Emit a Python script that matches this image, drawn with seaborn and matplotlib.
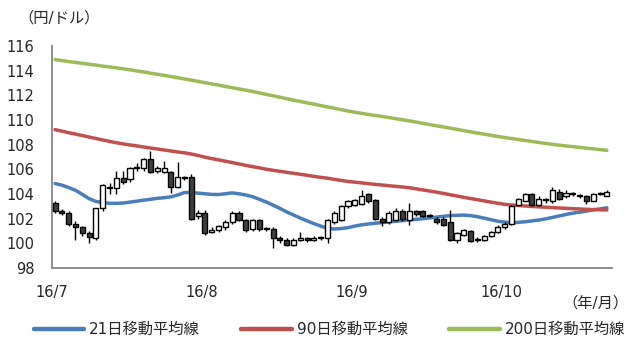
import matplotlib
matplotlib.use("Agg")
import matplotlib.pyplot as plt
import seaborn as sns
import numpy as np
import pandas as pd

# ---- data ----
opens = [103.3, 102.6, 102.5, 101.6, 101.3, 100.8, 100.4, 102.9, 104.6, 104.5, 105.3, 105.2, 106.1, 106.1,
         106.8, 105.9, 105.8, 105.8, 104.6, 105.4, 105.4, 102.2,
         102.45, 100.9, 101.1, 101.35, 101.75, 102.5, 101.9, 101.2, 101.9, 101.2, 101.2, 100.4, 100.3, 99.9,
         100.3, 100.4, 100.3, 100.4, 100.4, 101.7, 101.9, 103.0,
         103.1, 103.2, 104.0, 103.5, 102.0, 101.75, 101.9, 102.65, 101.9, 102.6, 102.6, 102.2, 102.0, 102.0,
         101.7, 100.3, 100.7, 101.0, 100.3, 100.3, 100.6, 100.9,
         101.3, 101.6, 103.1, 103.45, 104.0, 103.1, 103.5, 103.45, 104.2, 103.8, 104.0, 103.9, 103.8, 103.45,
         104.0, 103.85]
highs = [103.4, 102.8, 102.6, 101.8, 101.4, 101.0, 102.9, 104.8, 104.9, 105.9, 105.9, 106.2, 106.5, 106.9,
         107.5, 106.3, 106.7, 105.9, 106.6, 105.5, 105.6, 102.7,
         102.7, 101.3, 101.5, 101.9, 102.6, 102.6, 102.0, 102.0, 102.0, 101.3, 101.3, 100.6, 100.4, 100.4,
         100.9, 100.5, 100.6, 100.6, 102.0, 102.6, 103.1, 103.5,
         103.6, 104.3, 104.1, 103.6, 102.1, 102.6, 102.9, 102.8, 103.3, 102.7, 102.7, 102.4, 102.1, 102.1,
         102.7, 100.9, 101.2, 101.1, 100.5, 100.7, 101.0, 101.5,
         101.7, 103.1, 103.7, 104.1, 104.1, 103.8, 103.7, 104.6, 104.4, 104.3, 104.2, 104.0, 103.9, 104.1,
         104.2, 104.3]
lows = [102.5, 102.3, 101.4, 100.3, 100.6, 100.0, 100.3, 102.6, 104.0, 104.0, 104.8, 105.0, 105.9, 105.9,
        105.7, 105.7, 105.7, 104.1, 104.5, 105.1, 101.9, 102.0,
        100.7, 100.8, 100.9, 101.1, 101.6, 101.8, 100.9, 101.0, 101.0, 101.0, 99.6, 100.0, 99.8, 99.8,
        100.2, 100.1, 100.2, 100.3, 100.05, 101.6, 101.8, 102.9,
        103.0, 103.1, 103.3, 101.9, 101.4, 101.6, 101.8, 101.8, 101.5, 102.2, 102.1, 102.1, 101.6, 101.4,
        100.2, 100.0, 100.6, 100.1, 100.1, 100.2, 100.5, 100.8,
        101.2, 101.5, 103.0, 103.4, 103.0, 103.0, 103.3, 103.3, 103.5, 103.7, 103.8, 103.7, 103.2, 103.4,
        103.9, 103.8]
closes = [102.6, 102.5, 101.6, 101.3, 100.8, 100.5, 102.9, 104.7, 104.5, 105.3, 105.0, 106.1, 106.2, 106.8,
          105.8, 106.1, 106.1, 104.6, 105.4, 105.3, 102.0, 102.5,
          100.8, 101.1, 101.4, 101.75, 102.5, 101.9, 101.1, 101.9, 101.2, 101.2, 100.4, 100.3, 99.9, 100.3,
          100.4, 100.3, 100.4, 100.5, 101.9, 102.45, 103.0, 103.4,
          103.5, 103.8, 103.4, 102.0, 101.7, 102.45, 102.6, 101.95, 102.6, 102.4, 102.2, 102.3, 101.7, 101.5,
          100.3, 100.8, 101.1, 100.2, 100.3, 100.6, 100.9, 101.35,
          101.6, 103.0, 103.6, 104.0, 103.1, 103.6, 103.5, 104.3, 103.6, 104.1, 104.0, 103.85, 103.4, 104.0,
          104.0, 104.2]

ma21 = [104.85, 104.72, 104.52, 104.3, 103.97, 103.62, 103.4, 103.3, 103.25, 103.24, 103.27, 103.34, 103.42,
        103.5, 103.57, 103.65, 103.7, 103.77, 103.92, 104.12, 104.12, 104.07, 104.02, 103.97, 103.96, 104.02,
        104.09, 104.02, 103.92, 103.78, 103.57, 103.35, 103.1, 102.83, 102.55, 102.3, 102.05, 101.82, 101.6,
        101.4, 101.22, 101.16, 101.2, 101.27, 101.4, 101.5, 101.57, 101.63, 101.68, 101.74, 101.79, 101.84,
        101.9, 101.95, 102.0, 102.07, 102.13, 102.19, 102.25, 102.27, 102.29, 102.25, 102.16, 102.04, 101.92,
        101.79, 101.72, 101.66, 101.7, 101.75, 101.82, 101.89, 101.98, 102.1, 102.22, 102.34, 102.45, 102.53,
        102.62, 102.71, 102.8, 102.88]
ma90 = [109.22, 109.1, 108.97, 108.86, 108.74, 108.62, 108.5, 108.38, 108.26, 108.16, 108.06, 107.98, 107.9,
        107.81, 107.73, 107.65, 107.57, 107.49, 107.41, 107.34, 107.24, 107.12, 106.99, 106.87, 106.77, 106.66,
        106.55, 106.44, 106.32, 106.22, 106.12, 106.01, 105.92, 105.84, 105.76, 105.68, 105.6, 105.52, 105.43,
        105.35, 105.28, 105.19, 105.1, 105.02, 104.96, 104.9, 104.84, 104.78, 104.73, 104.67, 104.62, 104.57,
        104.51, 104.42, 104.33, 104.24, 104.15, 104.05, 103.94, 103.84, 103.73, 103.63, 103.54, 103.44, 103.34,
        103.25, 103.16, 103.11, 103.07, 103.03, 102.99, 102.96, 102.93, 102.9, 102.87, 102.84, 102.81, 102.79,
        102.76, 102.74, 102.72, 102.7]
ma200 = [114.9, 114.82, 114.74, 114.67, 114.6, 114.52, 114.45, 114.37, 114.3, 114.23, 114.15, 114.07, 113.98,
         113.9, 113.8, 113.71, 113.62, 113.52, 113.43, 113.33, 113.23, 113.13, 113.03, 112.93, 112.83, 112.72,
         112.62, 112.52, 112.42, 112.31, 112.2, 112.08, 111.96, 111.85, 111.73, 111.61, 111.5, 111.39, 111.28,
         111.17, 111.06, 110.95, 110.84, 110.73, 110.63, 110.54, 110.45, 110.37, 110.29, 110.2, 110.11, 110.02,
         109.93, 109.83, 109.73, 109.63, 109.53, 109.44, 109.34, 109.24, 109.14, 109.04, 108.94, 108.85, 108.76,
         108.67, 108.58, 108.5, 108.42, 108.34, 108.26, 108.18, 108.1, 108.03, 107.96, 107.9, 107.84, 107.78,
         107.72, 107.66, 107.6, 107.54]

month_labels = ["16/7", "16/8", "16/9", "16/10"]
month_starts = [0, 22, 44, 66]
y_ticks = [98, 100, 102, 104, 106, 108, 110, 112, 114, 116]
legend_labels = ["21日移動平均線", "90日移動平均線", "200日移動平均線"]
y_unit = "（円/ドル）"
x_unit = "（年/月）"

# ---- styling ----
sns.set_style("white")
plt.rcParams["font.family"] = ["DejaVu Sans", "Noto Sans CJK JP"]

c_blue = "#4A7EBB"
c_red = "#C0504D"
c_green = "#9BBB59"
c_spine = "#868686"

n = len(opens)
idx = np.arange(n)
df = pd.DataFrame({"idx": idx, "open": opens, "high": highs, "low": lows, "close": closes,
                   "ma21": ma21, "ma90": ma90, "ma200": ma200})

fig = plt.figure(figsize=(6.3, 3.39), dpi=100)
ax = fig.add_axes([0.0825, 0.2094, 0.8889, 0.6549])

for col, colr, lab in zip(["ma21", "ma90", "ma200"], [c_blue, c_red, c_green], legend_labels):
    sns.lineplot(data=df, x="idx", y=col, color=colr, linewidth=2.5, ax=ax, label=lab, zorder=2)

# candles
ax.vlines(df["idx"], df["low"], df["high"], color="black", linewidth=1.0, zorder=3)
body_bottom = np.minimum(df["open"], df["close"])
body_h = np.abs(df["close"] - df["open"])
body_h = np.maximum(body_h, 0.06)
fills = ["white" if c >= o else "#3F3F3F" for o, c in zip(opens, closes)]
ax.bar(df["idx"], body_h, bottom=body_bottom, width=0.74, color=fills,
       edgecolor="black", linewidth=1.0, zorder=4)

ax.set_xlim(-0.45, 81.75)
ax.set_ylim(98, 116)
ax.set_yticks(y_ticks)
ax.set_yticklabels([str(v) for v in y_ticks], fontsize=10.5)
tick_pos = [-0.45] + [s - 0.5 for s in month_starts[1:]]
ax.set_xticks(tick_pos)
ax.set_xticklabels(month_labels, fontsize=10.5)
ax.set_xlabel("")
ax.set_ylabel("")

for s in ["top", "right"]:
    ax.spines[s].set_visible(False)
for s in ["left", "bottom"]:
    ax.spines[s].set_color(c_spine)
    ax.spines[s].set_linewidth(1.3)

ax.tick_params(axis="y", direction="out", length=3.5, width=1.0, color=c_spine, pad=9)
ax.tick_params(axis="x", direction="in", length=4, width=1.0, color=c_spine, pad=12)
ax.grid(False)

ax.get_legend().remove()
handles, labels = ax.get_legend_handles_labels()
leg = fig.legend(handles, labels, loc="center", bbox_to_anchor=(0.523, 0.027), ncol=3,
                 frameon=False, fontsize=11, handlelength=3.3, handletextpad=0.35,
                 columnspacing=2.7)
for h in leg.get_lines():
    h.set_linewidth(3.2)

fig.text(0.029, 0.947, y_unit, fontsize=11, ha="left", va="center")
fig.text(0.997, 0.106, x_unit, fontsize=11, ha="right", va="center")

fig.savefig("out.png", dpi=100)
